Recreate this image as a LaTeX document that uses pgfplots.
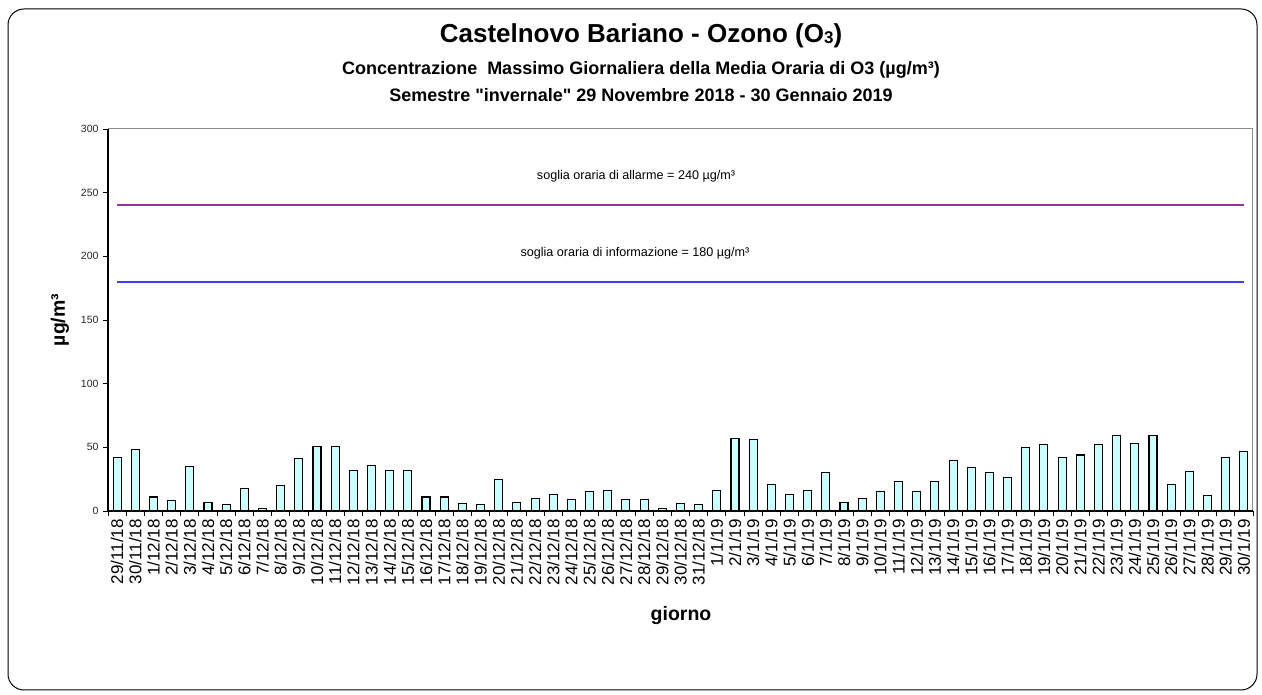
\documentclass[border=0pt]{standalone}
\usepackage{pgfplots}
\pgfplotsset{compat=1.18}
\usepackage{fontspec}
\setmainfont{Liberation Sans}[Ligatures=TeXOff]
\definecolor{barfill}{HTML}{CCFFFF}
\definecolor{allarme}{HTML}{993399}
\definecolor{info}{HTML}{3F3FF5}
\definecolor{plotgrey}{HTML}{8C8C8C}

\begin{document}
\begin{tikzpicture}[x=1pt,y=1pt]
\path[use as bounding box] (0,0) rectangle (1262,695);
\draw[line width=1pt, rounded corners=16pt] (8,5) rectangle (1257,686);

% titles
\node[anchor=base] at (641,652) {\fontsize{26}{30}\selectfont\bfseries Castelnovo Bariano - Ozono (O\raisebox{-1pt}{\fontsize{17}{20}\selectfont 3})};
\node[anchor=base] at (641,620.5) {\fontsize{18}{21}\selectfont\bfseries Concentrazione\ \ Massimo Giornaliera della Media Oraria di O3 (µg/m³)};
\node[anchor=base] at (641,593.5) {\fontsize{18}{21}\selectfont\bfseries Semestre "invernale" 29 Novembre 2018 - 30 Gennaio 2019};

\begin{axis}[at={(108pt,184pt)}, anchor=south west, scale only axis,
  width=1145pt, height=382pt,
  xmin=-0.5, xmax=62.5, ymin=0, ymax=300,
  axis line style={plotgrey, line width=1pt},
  tick align=outside, major tick length=5pt,
  xtick pos=left, ytick pos=left,
  tick style={black, line width=0.8pt},
  ytick={0,50,...,300},
  yticklabel style={font=\fontsize{10.5}{12}\selectfont, text=black!85, xshift=-1pt},
  /pgf/number format/assume math mode=true,
  xtick={-0.5,0.5,...,62.5}, xticklabels={},
  extra x ticks={0,...,62},
  extra x tick style={major tick length=0pt},
  extra x tick labels={29/11/18,30/11/18,1/12/18,2/12/18,3/12/18,4/12/18,5/12/18,6/12/18,7/12/18,8/12/18,9/12/18,10/12/18,11/12/18,12/12/18,13/12/18,14/12/18,15/12/18,16/12/18,17/12/18,18/12/18,19/12/18,20/12/18,21/12/18,22/12/18,23/12/18,24/12/18,25/12/18,26/12/18,27/12/18,28/12/18,29/12/18,30/12/18,31/12/18,1/1/19,2/1/19,3/1/19,4/1/19,5/1/19,6/1/19,7/1/19,8/1/19,9/1/19,10/1/19,11/1/19,12/1/19,13/1/19,14/1/19,15/1/19,16/1/19,17/1/19,18/1/19,19/1/19,20/1/19,21/1/19,22/1/19,23/1/19,24/1/19,25/1/19,26/1/19,27/1/19,28/1/19,29/1/19,30/1/19},
  xticklabel style={rotate=90, anchor=east, font=\fontsize{17}{18}\selectfont, inner sep=0pt},
  xticklabel shift=8pt,
  clip=false,
  after end axis/.code={
    \draw[black, line width=1.2pt] (rel axis cs:0,1) -- (rel axis cs:0,0) -- (rel axis cs:1,0);
  },
]
\addplot[ybar, bar width=8pt, fill=barfill, draw=black, line width=1.1pt] coordinates {
(0,42) (1,48) (2,11) (3,8) (4,35) (5,7) (6,5) (7,18) (8,2) (9,20)
(10,41) (11,51) (12,51) (13,32) (14,36) (15,32) (16,32) (17,11) (18,11) (19,6)
(20,5) (21,25) (22,7) (23,10) (24,13) (25,9) (26,15) (27,16) (28,9) (29,9)
(30,2) (31,6) (32,5) (33,16) (34,57) (35,56) (36,21) (37,13) (38,16) (39,30)
(40,7) (41,10) (42,15) (43,23) (44,15) (45,23) (46,40) (47,34) (48,30) (49,26)
(50,50) (51,52) (52,42) (53,44) (54,52) (55,59) (56,53) (57,59) (58,21) (59,31)
(60,12) (61,42) (62,47)};
\addplot[allarme, line width=2pt, mark=none] coordinates {(0,240) (62,240)};
\addplot[info, line width=2pt, mark=none] coordinates {(0,180) (62,180)};
\end{axis}

\node[anchor=base] at (636,515) {\fontsize{12.6}{15}\selectfont soglia oraria di allarme = 240 µg/m³};
\node[anchor=base] at (635,438) {\fontsize{12.6}{15}\selectfont soglia oraria di informazione = 180 µg/m³};
\node[rotate=90] at (60,375) {\fontsize{19.5}{22}\selectfont\bfseries µg/m³};
\node[anchor=base] at (681,74) {\fontsize{19.5}{22}\selectfont\bfseries giorno};
\end{tikzpicture}
\end{document}
